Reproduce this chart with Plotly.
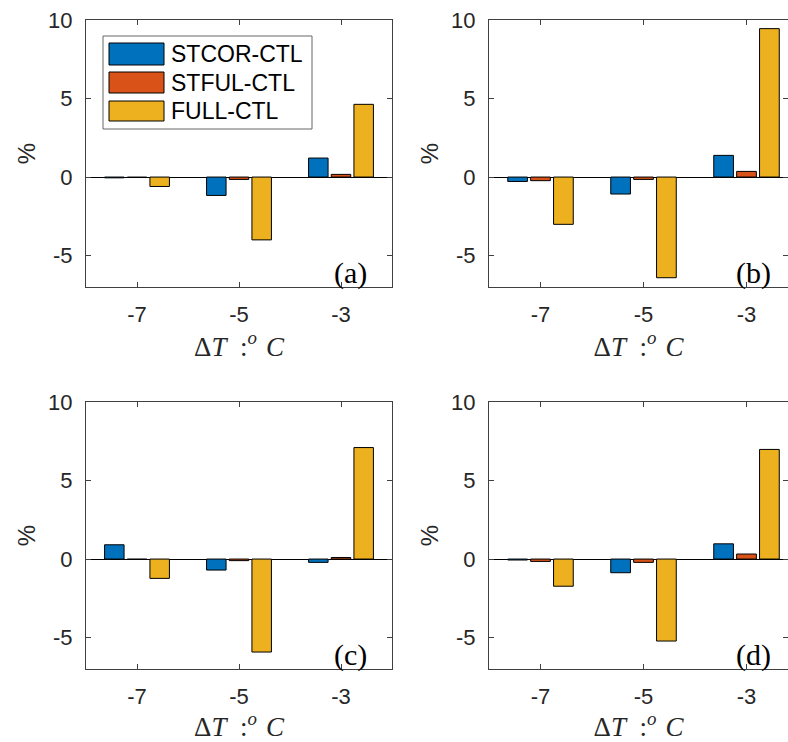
import plotly.graph_objects as go

categories = ["-7", "-5", "-3"]
series_names = ["STCOR-CTL", "STFUL-CTL", "FULL-CTL"]
colors = ["#0072BD", "#D95319", "#EDB120"]

# values per panel: [STCOR-CTL, STFUL-CTL, FULL-CTL], each over categories
panel_a = [[-0.05, -1.17, 1.21], [-0.03, -0.15, 0.17], [-0.60, -4.00, 4.63]]
panel_b = [[-0.28, -1.08, 1.38], [-0.23, -0.15, 0.36], [-3.01, -6.41, 9.45]]
panel_c = [[0.91, -0.70, -0.21], [-0.02, -0.10, 0.10], [-1.23, -5.92, 7.10]]
panel_d = [[-0.06, -0.87, 0.97], [-0.15, -0.21, 0.32], [-1.73, -5.22, 6.98]]
panel_labels = ["(a)", "(b)", "(c)", "(d)"]

ytick_vals = [-5, 0, 5, 10]
ytick_text = ["-5", "0", "5", "10"]

W, H = 788, 742
AX = "#404040"
SANS = "Liberation Sans, Arial, sans-serif"
SERIF = "Liberation Serif, Times New Roman, serif"
XTITLE = "Δ<i>T</i>&#8194;:<sup><i>o</i></sup>&#8196;<i>C</i>"

# pixel layout of the axes
cols = [(86, 392), (489, 788)]
rows = [(20, 287), (402, 669)]

fig = go.Figure()
panels = [panel_a, panel_b, panel_c, panel_d]
for i, pdata in enumerate(panels):
    r, c = divmod(i, 2)
    n = "" if i == 0 else str(i + 1)
    for s in range(3):
        fig.add_trace(go.Bar(
            x=categories, y=pdata[s], name=series_names[s],
            marker=dict(color=colors[s], line=dict(color="#000000", width=1)),
            showlegend=False, xaxis="x" + n, yaxis="y" + n,
        ))
    x0, x1 = cols[c]
    y0, y1 = rows[r]
    xrange = [-0.5, 2.5] if c == 0 else [-0.5, -0.5 + (x1 - x0) / 103.0]
    fig.layout["xaxis" + n] = dict(
        domain=[x0 / W, x1 / W], anchor="y" + n, range=xrange,
        type="category", showline=True, linecolor=AX, linewidth=1,
        mirror="ticks", ticks="inside", ticklen=5, tickcolor=AX,
        tickfont=dict(family=SANS, size=22, color="#262626"),
        ticklabelstandoff=8, showgrid=False, zeroline=False,
        title=dict(text=XTITLE,
                   font=dict(family=SERIF, size=27, color="#262626"), standoff=0),
    )
    fig.layout["yaxis" + n] = dict(
        domain=[1 - y1 / H, 1 - y0 / H], anchor="x" + n, range=[-7, 10],
        tickvals=ytick_vals, ticktext=ytick_text,
        showline=True, linecolor=AX, linewidth=1,
        mirror="ticks", ticks="inside", ticklen=5, tickcolor=AX,
        tickfont=dict(family=SANS, size=22, color="#262626"),
        ticklabelstandoff=8, showgrid=False,
        zeroline=True, zerolinecolor="#000000", zerolinewidth=1,
        title=dict(text="%", font=dict(family=SANS, size=24, color="#262626"), standoff=5),
    )
    fig.add_annotation(
        text=panel_labels[i], xref="x" + n + " domain", yref="y" + n + " domain",
        x=264 / (x1 - x0), y=14 / (y1 - y0), xanchor="center", yanchor="middle",
        showarrow=False, font=dict(family=SERIF, size=30, color="#000000"),
    )

# manual legend in panel (a)
lx0, lx1 = 86, 392
ly0, ly1 = 20, 287
def fx(px):
    return (px - lx0) / (lx1 - lx0)
def fy(py):
    return (ly1 - py) / (ly1 - ly0)

fig.add_shape(type="rect", xref="x domain", yref="y domain",
              x0=fx(103), x1=fx(312), y0=fy(129), y1=fy(36),
              line=dict(color="#666666", width=1), fillcolor="white", layer="above")
row_px = [(43, 65), (72, 93), (101, 121)]
for s in range(3):
    t, b = row_px[s]
    fig.add_shape(type="rect", xref="x domain", yref="y domain",
                  x0=fx(109), x1=fx(164), y0=fy(b), y1=fy(t),
                  line=dict(color="#000000", width=1), fillcolor=colors[s], layer="above")
    fig.add_annotation(text=series_names[s], xref="x domain", yref="y domain",
                       x=fx(169), y=fy((t + b) / 2), xanchor="left", yanchor="middle",
                       showarrow=False, font=dict(family=SANS, size=23, color="#000000"))

fig.update_layout(
    width=W, height=H, margin=dict(l=0, r=0, t=0, b=0, autoexpand=False),
    paper_bgcolor="white", plot_bgcolor="white",
    barmode="group", bargap=0.333, bargroupgap=0.14,
    showlegend=False,
)

fig.write_html("out.html", config={"displayModeBar": False},
               post_script="document.body.style.margin='0';")
